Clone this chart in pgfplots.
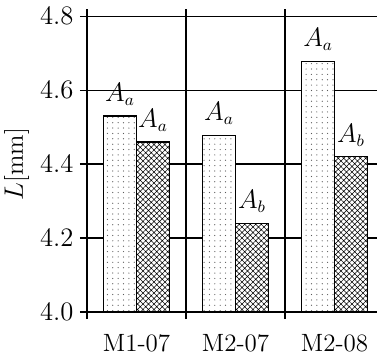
\documentclass[border=0pt]{standalone}
\usepackage{pgfplots}
\pgfplotsset{compat=1.18}
\usetikzlibrary{patterns.meta}
\begin{document}
\begin{tikzpicture}
\begin{axis}[
  name=ax,
  scale only axis,
  width=160.4pt, height=159.8pt,
  xmin=-0.5, xmax=2.5,
  ymin=4.0, ymax=4.8,
  ytick={4.0,4.2,4.4,4.6,4.8},
  yticklabel style={/pgf/number format/.cd,fixed,fixed zerofill,precision=1},
  xtick={0,1,2},
  xticklabels={M1-07,M2-07,M2-08},
  minor xtick={-0.5,0.5,1.5,2.5},
  xminorgrids=true,
  ymajorgrids=true,
  tick align=outside,
  major tick length=3.8pt,
  minor tick length=3.8pt,
  x tick style={draw=none},
  minor x tick style={draw=black,line width=0.6pt},
  y tick style={draw=black,line width=0.6pt},
  ticklabel style={font=\fontsize{13.5}{15}\selectfont},
  label style={font=\fontsize{13.5}{15}\selectfont},
  xticklabel style={yshift=-5pt},
  axis line style={line width=0.6pt},
  major grid style={black,line width=0.6pt},
  minor grid style={black,line width=0.6pt},
  ytick pos=left,
  ylabel={$L$[mm]},
  ylabel style={yshift=-1pt},
  ybar=0pt,
  bar width=17.8pt,
  point meta=explicit symbolic,
  nodes near coords,
  nodes near coords style={anchor=south, yshift=2pt, font=\fontsize{13.5}{15}\selectfont},
]
\addplot[draw=black, line width=0.7pt, fill=white,
  postaction={pattern={Dots[distance=2.9pt,radius=0.33pt]}, pattern color=black!65}]
  coordinates {(0,4.53) [$A_a$] (1,4.478) [$A_a$] (2,4.678) [$A_a$]};
\addplot[draw=black, line width=0.7pt, fill=white,
  postaction={pattern={Hatch[angle=45,distance=2.1pt,line width=0.3pt]}, pattern color=black}]
  coordinates {(0,4.46) [$A_a$] (1,4.24) [$A_b$] (2,4.42) [$A_b$]};
\end{axis}
\pgfresetboundingbox
\path ([shift={(-46.98pt,-25.38pt)}]ax.south west) rectangle +(203.58pt,193.86pt);
\end{tikzpicture}
\end{document}
